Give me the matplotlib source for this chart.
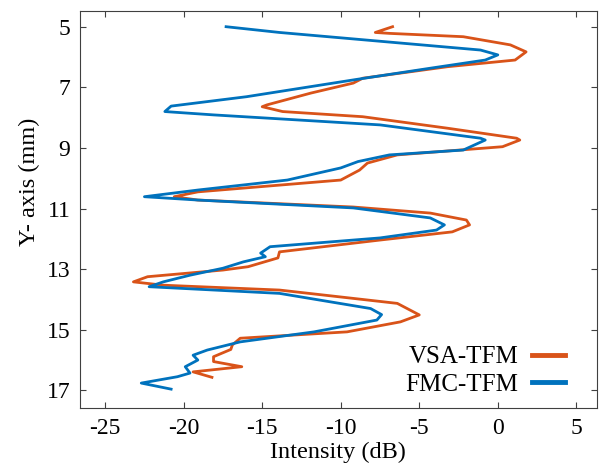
import matplotlib; matplotlib.use('Agg')
import matplotlib.pyplot as plt

plt.rcParams['font.family'] = 'Liberation Serif'
plt.rcParams['axes.unicode_minus'] = False
BLUE = '#0072BD'; ORANGE = '#D95319'

# VSA-TFM profile (intensity dB vs depth mm)
vsa_x = [-6.7, -7.8, -6.9, -2.2, 0.8, 1.8, 1.1, -3.2, -8.6, -9.2, -11.9, -14.7, -15.0, -13.7, -8.6, -3.2, 1.2,
         1.4, 0.3, -6.4, -8.3, -8.8, -10.0, -19.1, -20.6, -19.1, -9.2, -4.3, -2.0, -1.8, -2.9, -7.5, -13.9, -14.0, -15.9,
         -17.5, -22.3, -23.2, -21.3, -13.9, -6.4, -5.0, -6.2, -9.6, -16.4, -16.9, -17.0, -18.1, -18.1, -16.3, -19.4, -18.2]
vsa_y = [5.0, 5.19, 5.22, 5.33, 5.6, 5.83, 6.1, 6.32, 6.7, 6.86, 7.19, 7.58, 7.64, 7.8, 7.97, 8.35, 8.68,
         8.74, 8.96, 9.23, 9.5, 9.73, 10.06, 10.45, 10.61, 10.72, 10.95, 11.15, 11.38, 11.54, 11.77, 12.04, 12.43, 12.63, 12.92,
         13.03, 13.25, 13.42, 13.53, 13.69, 14.13, 14.51, 14.74, 15.07, 15.28, 15.5, 15.65, 15.89, 16.05, 16.22, 16.39, 16.57]

# FMC-TFM profile
fmc_x = [-17.3, -13.9, -1.1, 0.0, -0.8, -4.3, -9.0, -16.0, -20.8, -21.2, -18.1, -7.5, -1.1,
         -0.8, -2.2, -6.9, -8.9, -10.0, -13.4, -19.1, -22.5, -19.1, -9.2, -4.3, -3.4, -3.9, -7.5, -14.5, -15.1, -14.8, -16.2, -17.5,
         -19.6, -21.3, -22.2, -13.9, -8.1, -7.4, -7.7, -11.7, -16.4, -18.5, -19.4, -19.1, -19.9, -19.6, -20.4, -22.7, -20.8]
fmc_y = [5.0, 5.19, 5.77, 5.93, 6.1, 6.37, 6.74, 7.31, 7.62, 7.8, 7.91, 8.24, 8.68,
         8.74, 9.07, 9.23, 9.45, 9.66, 10.06, 10.39, 10.61, 10.72, 10.98, 11.31, 11.54, 11.71, 11.97, 12.26, 12.47, 12.59, 12.76, 12.97,
         13.2, 13.42, 13.58, 13.8, 14.3, 14.5, 14.68, 15.07, 15.4, 15.67, 15.84, 16.0, 16.22, 16.43, 16.55, 16.76, 16.96]

xticks = [-25, -20, -15, -10, -5, 0, 5]
yticks = [5, 7, 9, 11, 13, 15, 17]

fig = plt.figure(figsize=(6.04, 4.76), dpi=100)
ax = fig.add_axes([0.1325, 0.143, 0.8555, 0.834])
ax.plot(vsa_x, vsa_y, color=ORANGE, lw=2.0, label='VSA-TFM')
ax.plot(fmc_x, fmc_y, color=BLUE, lw=2.0, label='FMC-TFM')
ax.set_xlim(-26.6, 6.3); ax.set_ylim(17.58, 4.48)
ax.set_xticks(xticks); ax.set_yticks(yticks)
ax.tick_params(direction='in', top=True, right=True, labelsize=17, length=4, color='#404040', pad=7)
for s in ax.spines.values(): s.set_color('#404040')
ax.set_xlabel('Intensity (dB)', fontsize=17.5, labelpad=2)
ax.set_ylabel('Y- axis (mm)', fontsize=17.5)
ax.yaxis.set_label_coords(-0.077, 0.57)
leg = ax.legend(loc='lower right', bbox_to_anchor=(0.957, 0.005), frameon=False, fontsize=18, markerfirst=False,
                handlelength=1.3, handletextpad=0.55, borderaxespad=0.0, labelspacing=0.2)
for h in leg.get_lines(): h.set_linewidth(3.5)
fig.savefig('out.png', dpi=100, facecolor='white')
